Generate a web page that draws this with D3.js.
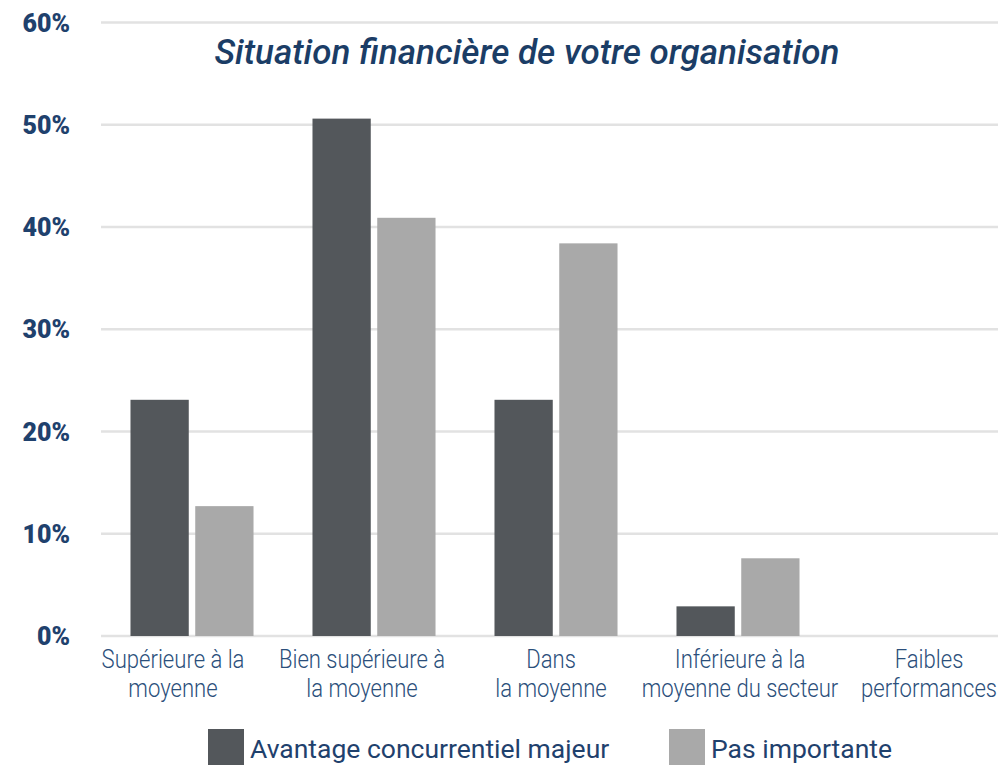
<!DOCTYPE html>
<html>
<head>
<meta charset="utf-8">
<script src="https://cdn.jsdelivr.net/npm/d3@7"></script>
<style>
  body { margin: 0; background: #fff; }
  svg { display: block; font-family: Roboto, "Noto Sans", sans-serif; }
</style>
</head>
<body>
<svg id="chart"></svg>
<script>
// chart data
const categories = [
    ["Supérieure à la", "moyenne"],
    ["Bien supérieure à", "la moyenne"],
    ["Dans", "la moyenne"],
    ["Inférieure à la", "moyenne du secteur"],
    ["Faibles", "performances"]
];
const seriesNames = ["Avantage concurrentiel majeur", "Pas importante"];
const avantageValues = [23.1, 50.6, 23.1, 2.9, 0];
const pasImportanteValues = [12.7, 40.9, 38.4, 7.6, 0];
const yTicks = [0, 10, 20, 30, 40, 50, 60];
const title = "Situation financière de votre organisation";

const colors = ["#53575b", "#a9a9a9"];
const navy = "#1f416d";

let width = 998;
let height = 765;

let svg = d3.select('#chart')
            .attr('width', width)
            .attr('height', height);

let catKeys = categories.map(c => c.join(' '));
let data = catKeys.map((k, i) => ({ key: k, values: [avantageValues[i], pasImportanteValues[i]] }));

// scales
let y = d3.scaleLinear().domain([0, 60]).range([636, 22.5]);
let x0 = d3.scaleBand().domain(catKeys).range([101, 1011]).paddingInner(0.324).paddingOuter(0.162);
let x1 = d3.scaleBand().domain(seriesNames).range([0, x0.bandwidth()]).paddingInner(0.1);
// category labels sit on a slightly different spacing than the bars
let xLabel = d3.scalePoint().domain(catKeys).range([173, 929]);

// gridlines
svg.append('g')
   .selectAll('line')
   .data(yTicks)
   .enter()
   .append('line')
   .attr('x1', 101)
   .attr('x2', width)
   .attr('y1', d => y(d))
   .attr('y2', d => y(d))
   .attr('stroke', '#e2e2e2')
   .attr('stroke-width', 2.5);

// y labels
svg.append('g')
   .selectAll('text')
   .data(yTicks)
   .enter()
   .append('text')
   .attr('x', 70)
   .attr('y', d => y(d))
   .attr('dy', '0.36em')
   .attr('text-anchor', 'end')
   .attr('font-size', 25)
   .attr('font-weight', 900)
   .attr('fill', navy)
   .text(d => d + '%');

// title
svg.append('text')
   .attr('x', 527)
   .attr('y', 64)
   .attr('text-anchor', 'middle')
   .attr('font-size', 35)
   .attr('font-style', 'italic')
   .attr('font-weight', 500)
   .attr('fill', '#1b3d66')
   .text(title);

// bars
let groups = svg.append('g')
                .selectAll('g')
                .data(data)
                .enter()
                .append('g')
                .attr('transform', d => `translate(${x0(d.key)},0)`);

groups.selectAll('rect')
      .data(d => d.values.map((v, i) => ({ name: seriesNames[i], value: v, i: i })))
      .enter()
      .append('rect')
      .attr('x', d => x1(d.name))
      .attr('width', x1.bandwidth())
      .attr('y', d => y(d.value))
      .attr('height', d => y(0) - y(d.value))
      .attr('fill', d => colors[d.i]);

// x labels (two lines, condensed light)
let labels = svg.append('g')
                .selectAll('g')
                .data(categories)
                .enter()
                .append('g')
                .attr('transform', (d, i) => `translate(${xLabel(catKeys[i])},0) scale(0.85,1)`);

labels.selectAll('text')
      .data(d => d)
      .enter()
      .append('text')
      .attr('x', 0)
      .attr('y', (d, i) => 668 + i * 29)
      .attr('text-anchor', 'middle')
      .attr('font-size', 26)
      .attr('font-weight', 300)
      .attr('fill', '#2b4f7b')
      .text(d => d);

// legend
let legendX = [208, 669];
let legend = svg.append('g')
                .selectAll('g')
                .data(seriesNames)
                .enter()
                .append('g')
                .attr('transform', (d, i) => `translate(${legendX[i]},729)`);

legend.append('rect')
      .attr('width', 36)
      .attr('height', 36)
      .attr('fill', (d, i) => colors[i]);

legend.append('text')
      .attr('x', 42)
      .attr('y', 28.5)
      .attr('font-size', 26.5)
      .attr('fill', navy)
      .text(d => d);
</script>
</body>
</html>
